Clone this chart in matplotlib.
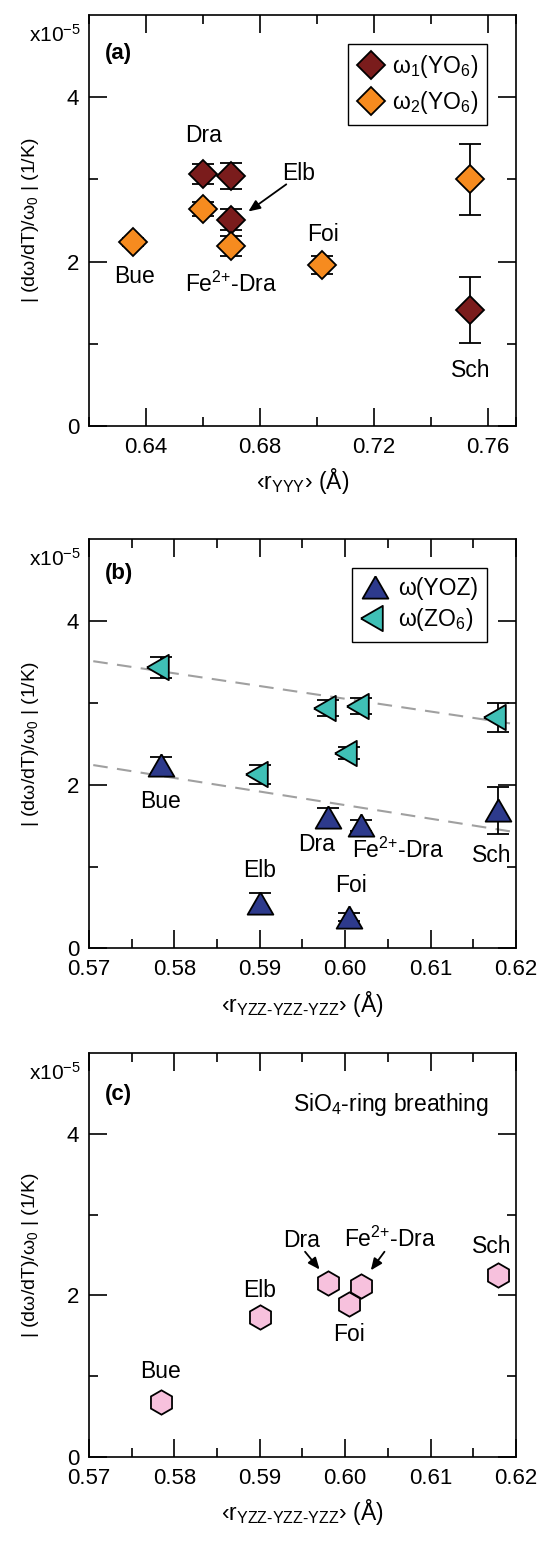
import numpy as np
import matplotlib
matplotlib.use('Agg')
import matplotlib.pyplot as plt
from matplotlib.ticker import FixedLocator

plt.rcParams['font.family'] = ['Liberation Sans', 'DejaVu Sans']
plt.rcParams['mathtext.fontset'] = 'custom'
plt.rcParams['mathtext.rm'] = 'Liberation Sans'
plt.rcParams['mathtext.it'] = 'Liberation Sans'
plt.rcParams['mathtext.bf'] = 'Liberation Sans:bold'
FS = 16.5   # point labels, legend, x label
TS = 16     # tick labels

# ---- panel (a): <r_YYY> ----
w1_names = ['Dra', 'Fe2+-Dra', 'Elb', 'Sch']
w1_x = [0.660, 0.670, 0.670, 0.754]
w1_y = [3.07, 3.04, 2.51, 1.415]
w1_err = [0.12, 0.16, 0.13, 0.40]

w2_names = ['Bue', 'Dra', 'Fe2+-Dra', 'Foi', 'Sch']
w2_x = [0.6354, 0.660, 0.670, 0.702, 0.754]
w2_y = [2.24, 2.64, 2.19, 1.955, 3.00]
w2_err = [0.05, 0.09, 0.12, 0.11, 0.43]

# ---- panels (b) and (c): <r_YZZ-YZZ-YZZ> ----
minerals = ['Bue', 'Elb', 'Dra', 'Foi', 'Fe2+-Dra', 'Sch']
r_yzz = [0.5784, 0.590, 0.598, 0.6005, 0.6019, 0.6179]
yoz_y = [2.24, 0.549, 1.605, 0.386, 1.504, 1.687]
yoz_err = [0.10, 0.13, 0.11, 0.05, 0.07, 0.29]
zo6_y = [3.435, 2.126, 2.94, 2.39, 2.96, 2.825]
zo6_err = [0.125, 0.12, 0.10, 0.07, 0.10, 0.18]
ring_y = [0.681, 1.736, 2.15, 1.89, 2.11, 2.25]

# dashed guide lines in (b)
fit_x = [0.5705, 0.6193]
fit_zo6 = [3.51, 2.75]
fit_yoz = [2.24, 1.43]

c_w1 = '#7a1c1c'
c_w2 = '#f68b1f'
c_yoz = '#2d3a8c'
c_zo6 = '#3fc0b6'
c_ring = '#f7c1dd'

tri_up = [(0, 0.866), (-1, -0.866), (1, -0.866), (0, 0.866)]
tri_left = [(-1, 0), (0.5, 0.866), (0.5, -0.866), (-1, 0)]

fig = plt.figure(figsize=(5.42, 15.48), dpi=100)
ax_a = fig.add_axes([0.1642, 0.7248, 0.7878, 0.2655])
ax_b = fig.add_axes([0.1642, 0.3874, 0.7878, 0.2642])
ax_c = fig.add_axes([0.1642, 0.0590, 0.7878, 0.2606])


def style(ax, xlim, xmaj, xmin, xlabel, panel, py):
    ax.set_xlim(*xlim)
    ax.set_ylim(0, 5)
    ax.xaxis.set_major_locator(FixedLocator(xmaj))
    ax.xaxis.set_minor_locator(FixedLocator(xmin))
    ax.set_xticklabels(['%.2f' % v for v in xmaj])
    ax.yaxis.set_major_locator(FixedLocator([0, 2, 4]))
    ax.yaxis.set_minor_locator(FixedLocator([1, 3]))
    ax.tick_params(which='both', direction='in', top=True, right=True,
                   width=1.2, labelsize=TS)
    ax.tick_params(which='major', length=13)
    ax.tick_params(which='minor', length=6.5)
    ax.tick_params(axis='x', pad=8)
    ax.tick_params(axis='y', pad=7)
    for s in ax.spines.values():
        s.set_linewidth(1.2)
    ax.set_ylabel(r'| (dω/dT)/ω$_\mathregular{0}$ | (1/K)', fontsize=14)
    ax.yaxis.set_label_coords(-0.113, 0.5)
    ax.set_xlabel(xlabel, fontsize=FS, labelpad=6)
    ax.text(-0.02, 0.952, r'x10$^\mathregular{-5}$', transform=ax.transAxes,
            ha='right', va='center', fontsize=15)
    ax.text(0.037, py, panel, transform=ax.transAxes, ha='left', va='center',
            fontsize=16, fontweight='bold')


eb = dict(fmt='none', ecolor='black', elinewidth=1.3, capsize=8, capthick=1.3, zorder=2)
mk = dict(linestyle='none', markeredgecolor='black', markeredgewidth=1.3, zorder=3)
fe = r'Fe$^\mathregular{2{+}}$-Dra'
lg = dict(loc='upper right', fontsize=FS, fancybox=False, edgecolor='black',
          framealpha=1, borderaxespad=1.25, handlelength=1.2, borderpad=0.4)

# (a)
ax = ax_a
ax.errorbar(w1_x, w1_y, yerr=w1_err, **eb)
ax.errorbar(w2_x, w2_y, yerr=w2_err, **eb)
ax.plot(w1_x, w1_y, marker='D', ms=14, markerfacecolor=c_w1,
        label=r'ω$_\mathregular{1}$(YO$_\mathregular{6}$)', **mk)
ax.plot(w2_x, w2_y, marker='D', ms=14, markerfacecolor=c_w2,
        label=r'ω$_\mathregular{2}$(YO$_\mathregular{6}$)', **mk)
style(ax, (0.62, 0.77), [0.64, 0.68, 0.72, 0.76], [0.62, 0.66, 0.70, 0.74, 0.77],
      r'‹r$_\mathregular{YYY}$› (Å)', '(a)', 0.907)
tk = dict(ha='center', va='center', fontsize=FS)
ax.text(0.6602, 3.53, 'Dra', **tk)
ax.text(0.6935, 3.07, 'Elb', **tk)
ax.text(0.6699, 1.73, fe, **tk)
ax.text(0.636, 1.82, 'Bue', **tk)
ax.text(0.7023, 2.33, 'Foi', **tk)
ax.text(0.754, 0.68, 'Sch', **tk)
arr = dict(arrowstyle='-|>,head_length=0.7,head_width=0.3', color='black',
           lw=1.3, shrinkA=0, shrinkB=0)
ax.annotate('', xy=(0.676, 2.61), xytext=(0.6893, 2.94), arrowprops=arr)
leg = ax.legend(handletextpad=0.3, labelspacing=0.4, **lg)
leg.get_frame().set_linewidth(1.0)

# (b)
ax = ax_b
ax.plot(fit_x, fit_zo6, color='#a0a0a0', lw=1.5, dashes=(7, 4.5), zorder=1)
ax.plot(fit_x, fit_yoz, color='#a0a0a0', lw=1.5, dashes=(7, 4.5), zorder=1)
ax.errorbar(r_yzz, yoz_y, yerr=yoz_err, **eb)
ax.errorbar(r_yzz, zo6_y, yerr=zo6_err, **eb)
ax.plot(r_yzz, yoz_y, marker=tri_up, ms=18.5, markerfacecolor=c_yoz,
        label='ω(YOZ)', **mk)
ax.plot(r_yzz, zo6_y, marker=tri_left, ms=21, markerfacecolor=c_zo6,
        label=r'ω(ZO$_\mathregular{6}$)', **mk)
xm = [0.57, 0.58, 0.59, 0.60, 0.61, 0.62]
xn = [0.575, 0.585, 0.595, 0.605, 0.615]
style(ax, (0.57, 0.62), xm, xn, r'‹r$_\mathregular{YZZ\text{-}YZZ\text{-}YZZ}$› (Å)',
      '(b)', 0.917)
ax.text(0.5784, 1.80, 'Bue', **tk)
ax.text(0.5967, 1.27, 'Dra', **tk)
ax.text(0.6062, 1.20, fe, **tk)
ax.text(0.6172, 1.14, 'Sch', **tk)
ax.text(0.590, 0.955, 'Elb', **tk)
ax.text(0.6007, 0.764, 'Foi', **tk)
leg = ax.legend(handletextpad=0.4, labelspacing=0.25, **lg)
leg.get_frame().set_linewidth(1.0)

# (c)
ax = ax_c
ax.plot(r_yzz, ring_y, marker='h', ms=17.5, markerfacecolor=c_ring, **mk)
style(ax, (0.57, 0.62), xm, xn, r'‹r$_\mathregular{YZZ\text{-}YZZ\text{-}YZZ}$› (Å)',
      '(c)', 0.897)
ax.text(0.5784, 1.06, 'Bue', **tk)
ax.text(0.590, 2.06, 'Elb', **tk)
ax.text(0.5949, 2.68, 'Dra', **tk)
ax.text(0.6053, 2.69, fe, **tk)
ax.text(0.6005, 1.52, 'Foi', **tk)
ax.text(0.6172, 2.60, 'Sch', **tk)
ax.annotate('', xy=(0.5970, 2.32), xytext=(0.5953, 2.54), arrowprops=arr)
ax.annotate('', xy=(0.6030, 2.31), xytext=(0.6046, 2.54), arrowprops=arr)
ax.text(0.708, 0.872, r'SiO$_\mathregular{4}$-ring breathing', transform=ax.transAxes,
        ha='center', va='center', fontsize=FS)

fig.savefig('out.png', dpi=100)
